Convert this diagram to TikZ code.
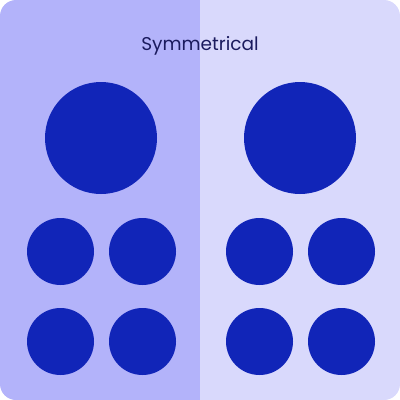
\documentclass[tikz,border=0pt]{standalone}
\usepackage{fontspec}
\setmainfont{Poppins}
\usetikzlibrary{positioning}
\definecolor{leftbg}{RGB}{179,179,250}
\definecolor{rightbg}{RGB}{217,217,252}
\definecolor{dot}{RGB}{17,37,184}
\definecolor{ink}{RGB}{27,27,94}
\begin{document}
\begin{tikzpicture}[
    x=1pt, y=-1pt,
    big/.style={circle, fill=dot, minimum size=112pt, inner sep=0pt},
    small/.style={circle, fill=dot, minimum size=67pt, inner sep=0pt}
]
    \useasboundingbox (0,0) rectangle (400,400);
    \begin{scope}
        \clip[rounded corners=16pt] (0,0) rectangle (400,400);
        \fill[leftbg] (0,0) rectangle (200,400);
        \fill[rightbg] (200,0) rectangle (400,400);
    \end{scope}

    \node[text=ink, font=\fontsize{18.5}{22}\selectfont] (title) at (200,46) {Symmetrical};

    % left half
    \node[big] (lbig) at (101,138) {};
    \node[small] (l1) at (60.5,251.5) {};
    \node[small] (l2) at (142.5,251.5) {};
    \node[small] (l3) at (60.5,341.5) {};
    \node[small] (l4) at (142.5,341.5) {};

    % right half
    \node[big] (rbig) at (300,138) {};
    \node[small] (r1) at (259.5,251.5) {};
    \node[small] (r2) at (341.5,251.5) {};
    \node[small] (r3) at (259.5,341.5) {};
    \node[small] (r4) at (341.5,341.5) {};
\end{tikzpicture}
\end{document}
